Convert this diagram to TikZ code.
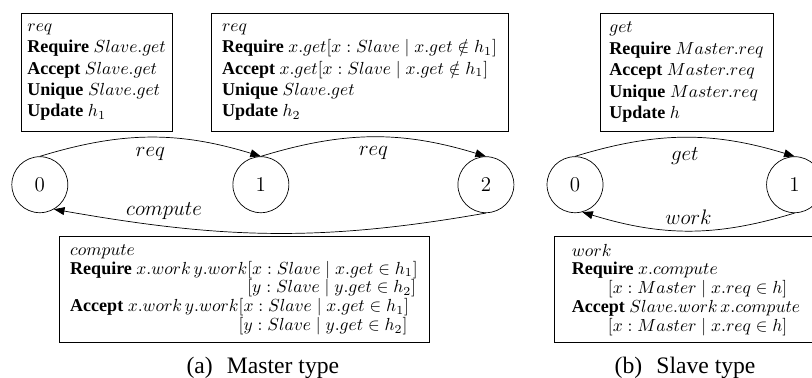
\documentclass[tikz,border=0pt]{standalone}
\usepackage[no-math]{fontspec}
\setmainfont{Liberation Serif}
\usetikzlibrary{arrows.meta}

\begin{document}
\begin{tikzpicture}[
    state/.style={circle, draw, inner sep=0pt, minimum size=1.125cm, font=\large},
    edge/.style={draw, -{Triangle[length=6pt,width=4.5pt]}},
    lbl/.style={font=\large},
    rulebox/.style={draw, align=left, inner xsep=3pt, inner ysep=0pt, font=\fontsize{10.3}{12.2}\selectfont},
    lowbox/.style={rulebox, font=\fontsize{10.3}{10.7}\selectfont},
    subcap/.style={font=\fontsize{13.5}{15}\selectfont}
]
\useasboundingbox (0,0) rectangle (16.31,-7.59);

% Define states
\node[state] (m0) at (0.80,-3.71) {$0$};
\node[state] (m1) at (5.24,-3.71) {$1$};
\node[state] (m2) at (9.76,-3.71) {$2$};
\node[state] (s0) at (11.55,-3.71) {$0$};
\node[state] (s1) at (15.96,-3.71) {$1$};

% Rule boxes
\node[rulebox, minimum width=86.3pt, minimum height=67.4pt] (reqA) at (1.94,-1.45) {%
    $req$\\
    \textbf{Require} $Slave.get$\\
    \textbf{Accept} $Slave.get$\\
    \textbf{Unique} $Slave.get$\\
    \textbf{Update} $h_1$};
\node[rulebox, minimum width=169.7pt, minimum height=67.4pt] (reqB) at (7.22,-1.45) {%
    $req$\\
    \textbf{Require} $x.get[x : Slave \mid x.get \notin h_1]$\\
    \textbf{Accept} $x.get[x : Slave \mid x.get \notin h_1]$\\
    \textbf{Unique} $Slave.get$\\
    \textbf{Update} $h_2$};
\node[rulebox, minimum width=98.9pt, minimum height=67.4pt] (get) at (13.79,-1.45) {%
    $get$\\
    \textbf{Require} $Master.req$\\
    \textbf{Accept} $Master.req$\\
    \textbf{Unique} $Master.req$\\
    \textbf{Update} $h$};
\node[lowbox, minimum width=211.4pt, minimum height=60.5pt] (compute) at (4.90,-5.82) {%
    $compute$\\
    \textbf{Require} $x.work\,y.work[x : Slave \mid x.get \in h_1]$\\
    \hphantom{\textbf{Require} $x.work\,y.work$}$[y : Slave \mid y.get \in h_2]$\\
    \textbf{Accept} $x.work\,y.work[x : Slave \mid x.get \in h_1]$\\
    \hphantom{\textbf{Accept} $x.work\,y.work$}$[y : Slave \mid y.get \in h_2]$};
\node[lowbox, minimum width=150.9pt, minimum height=60.5pt] (work) at (13.78,-5.82) {%
    $work$\\
    \textbf{Require} $x.compute$\\
    \hspace*{2em}$[x : Master \mid x.req \in h]$\\
    \textbf{Accept} $Slave.work\,x.compute$\\
    \hspace*{2em}$[x : Master \mid x.req \in h]$};

% Draw transitions
\foreach \u/\v/\w in {m0/m1/req, m1/m2/req, s0/s1/get} {
    \draw[edge] (\u.north) to[bend left=17] node[lbl, below=2pt] {$\w$} (\v.north);
}
\draw[edge] (m2.south) to[out=190, in=-10] node[lbl, pos=0.76, above] {$compute$} (m0.-60);
\draw[edge] (s1.south) to[out=197, in=-17] node[lbl, above] {$work$} (s0.-75);

% Captions
\node[subcap] (capA) at (5.28,-7.38) {(a)\hspace{0.6em}Master type};
\node[subcap] (capB) at (13.76,-7.38) {(b)\hspace{0.6em}Slave type};

\end{tikzpicture}
\end{document}
